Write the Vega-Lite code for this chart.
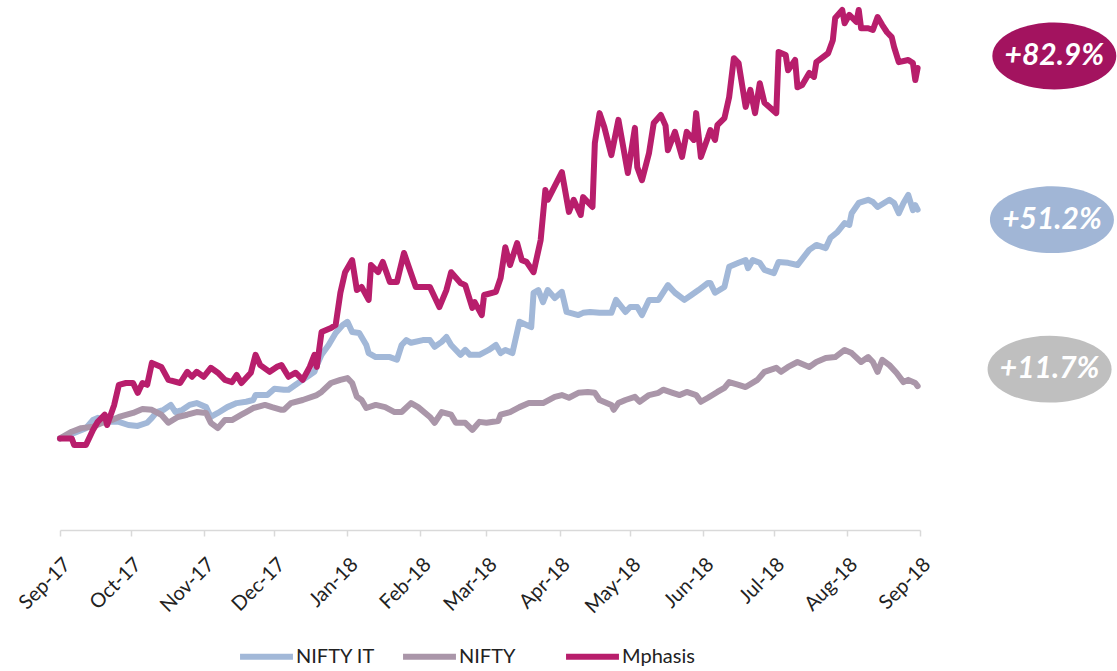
{
"$schema": "https://vega.github.io/schema/vega-lite/v6.json",
"width": 860, "height": 525,
"autosize": {"type": "none"},
"padding": {"left": 60, "top": 5, "right": 197, "bottom": 141},
"background": "white",
"config": {"view": {"stroke": null}, "font": "Lato"},
"datasets": {
"series": [
{"date":"2017/09/01","series":"NIFTY IT","change":0},{"date":"2017/09/07","series":"NIFTY IT","change":1.2},{"date":"2017/09/12","series":"NIFTY IT","change":2.3},{"date":"2017/09/15","series":"NIFTY IT","change":4.1},{"date":"2017/09/17","series":"NIFTY IT","change":4.6},{"date":"2017/09/21","series":"NIFTY IT","change":3.7},{"date":"2017/09/26","series":"NIFTY IT","change":3.7},{"date":"2017/09/30","series":"NIFTY IT","change":3.0},{"date":"2017/10/04","series":"NIFTY IT","change":2.8},{"date":"2017/10/08","series":"NIFTY IT","change":3.5},{"date":"2017/10/10","series":"NIFTY IT","change":4.6},{"date":"2017/10/12","series":"NIFTY IT","change":5.9},{"date":"2017/10/15","series":"NIFTY IT","change":6.4},{"date":"2017/10/18","series":"NIFTY IT","change":7.5},{"date":"2017/10/20","series":"NIFTY IT","change":5.9},{"date":"2017/10/23","series":"NIFTY IT","change":6.4},{"date":"2017/10/26","series":"NIFTY IT","change":7.5},{"date":"2017/10/29","series":"NIFTY IT","change":7.9},{"date":"2017/11/02","series":"NIFTY IT","change":7.0},{"date":"2017/11/04","series":"NIFTY IT","change":4.8},{"date":"2017/11/07","series":"NIFTY IT","change":5.7},{"date":"2017/11/11","series":"NIFTY IT","change":7.0},{"date":"2017/11/15","series":"NIFTY IT","change":7.9},{"date":"2017/11/19","series":"NIFTY IT","change":8.2},{"date":"2017/11/22","series":"NIFTY IT","change":8.6},{"date":"2017/11/23","series":"NIFTY IT","change":9.7},{"date":"2017/11/28","series":"NIFTY IT","change":9.7},{"date":"2017/12/01","series":"NIFTY IT","change":11.1},{"date":"2017/12/05","series":"NIFTY IT","change":10.9},{"date":"2017/12/07","series":"NIFTY IT","change":10.9},{"date":"2017/12/10","series":"NIFTY IT","change":12.0},{"date":"2017/12/13","series":"NIFTY IT","change":13.1},{"date":"2017/12/16","series":"NIFTY IT","change":14.2},{"date":"2017/12/18","series":"NIFTY IT","change":14.9},{"date":"2017/12/19","series":"NIFTY IT","change":16.4},{"date":"2017/12/21","series":"NIFTY IT","change":18.7},{"date":"2017/12/24","series":"NIFTY IT","change":20.9},{"date":"2017/12/27","series":"NIFTY IT","change":23.6},{"date":"2017/12/30","series":"NIFTY IT","change":25.4},{"date":"2018/01/01","series":"NIFTY IT","change":26.1},{"date":"2018/01/03","series":"NIFTY IT","change":23.8},{"date":"2018/01/06","series":"NIFTY IT","change":23.6},{"date":"2018/01/09","series":"NIFTY IT","change":20.9},{"date":"2018/01/10","series":"NIFTY IT","change":19.1},{"date":"2018/01/13","series":"NIFTY IT","change":18.2},{"date":"2018/01/19","series":"NIFTY IT","change":18.2},{"date":"2018/01/22","series":"NIFTY IT","change":17.6},{"date":"2018/01/24","series":"NIFTY IT","change":20.9},{"date":"2018/01/26","series":"NIFTY IT","change":22.0},{"date":"2018/01/28","series":"NIFTY IT","change":21.4},{"date":"2018/02/02","series":"NIFTY IT","change":22.0},{"date":"2018/02/05","series":"NIFTY IT","change":22.0},{"date":"2018/02/07","series":"NIFTY IT","change":20.5},{"date":"2018/02/10","series":"NIFTY IT","change":21.6},{"date":"2018/02/12","series":"NIFTY IT","change":22.7},{"date":"2018/02/14","series":"NIFTY IT","change":20.9},{"date":"2018/02/18","series":"NIFTY IT","change":18.7},{"date":"2018/02/20","series":"NIFTY IT","change":19.8},{"date":"2018/02/22","series":"NIFTY IT","change":18.7},{"date":"2018/02/26","series":"NIFTY IT","change":18.7},{"date":"2018/03/02","series":"NIFTY IT","change":19.8},{"date":"2018/03/05","series":"NIFTY IT","change":20.9},{"date":"2018/03/07","series":"NIFTY IT","change":19.1},{"date":"2018/03/09","series":"NIFTY IT","change":19.8},{"date":"2018/03/12","series":"NIFTY IT","change":19.1},{"date":"2018/03/15","series":"NIFTY IT","change":26.1},{"date":"2018/03/18","series":"NIFTY IT","change":25.4},{"date":"2018/03/20","series":"NIFTY IT","change":24.9},{"date":"2018/03/21","series":"NIFTY IT","change":32.6},{"date":"2018/03/23","series":"NIFTY IT","change":33.2},{"date":"2018/03/25","series":"NIFTY IT","change":30.5},{"date":"2018/03/27","series":"NIFTY IT","change":33.2},{"date":"2018/03/30","series":"NIFTY IT","change":31.4},{"date":"2018/04/02","series":"NIFTY IT","change":32.8},{"date":"2018/04/04","series":"NIFTY IT","change":28.3},{"date":"2018/04/09","series":"NIFTY IT","change":27.6},{"date":"2018/04/11","series":"NIFTY IT","change":28.1},{"date":"2018/04/14","series":"NIFTY IT","change":28.3},{"date":"2018/04/18","series":"NIFTY IT","change":28.1},{"date":"2018/04/23","series":"NIFTY IT","change":28.1},{"date":"2018/04/25","series":"NIFTY IT","change":31.0},{"date":"2018/04/29","series":"NIFTY IT","change":28.3},{"date":"2018/05/01","series":"NIFTY IT","change":29.4},{"date":"2018/05/04","series":"NIFTY IT","change":29.4},{"date":"2018/05/06","series":"NIFTY IT","change":27.6},{"date":"2018/05/09","series":"NIFTY IT","change":31.0},{"date":"2018/05/13","series":"NIFTY IT","change":31.0},{"date":"2018/05/17","series":"NIFTY IT","change":34.3},{"date":"2018/05/20","series":"NIFTY IT","change":32.6},{"date":"2018/05/24","series":"NIFTY IT","change":31.0},{"date":"2018/05/27","series":"NIFTY IT","change":32.1},{"date":"2018/05/30","series":"NIFTY IT","change":33.2},{"date":"2018/06/03","series":"NIFTY IT","change":34.8},{"date":"2018/06/04","series":"NIFTY IT","change":34.8},{"date":"2018/06/06","series":"NIFTY IT","change":32.6},{"date":"2018/06/10","series":"NIFTY IT","change":33.9},{"date":"2018/06/12","series":"NIFTY IT","change":38.4},{"date":"2018/06/16","series":"NIFTY IT","change":39.3},{"date":"2018/06/19","series":"NIFTY IT","change":39.9},{"date":"2018/06/20","series":"NIFTY IT","change":38.1},{"date":"2018/06/22","series":"NIFTY IT","change":39.9},{"date":"2018/06/25","series":"NIFTY IT","change":39.3},{"date":"2018/06/27","series":"NIFTY IT","change":37.7},{"date":"2018/07/01","series":"NIFTY IT","change":37.0},{"date":"2018/07/03","series":"NIFTY IT","change":39.5},{"date":"2018/07/07","series":"NIFTY IT","change":39.3},{"date":"2018/07/11","series":"NIFTY IT","change":38.8},{"date":"2018/07/16","series":"NIFTY IT","change":42.2},{"date":"2018/07/19","series":"NIFTY IT","change":43.3},{"date":"2018/07/23","series":"NIFTY IT","change":42.6},{"date":"2018/07/25","series":"NIFTY IT","change":44.9},{"date":"2018/07/28","series":"NIFTY IT","change":46.2},{"date":"2018/07/31","series":"NIFTY IT","change":48.2},{"date":"2018/08/02","series":"NIFTY IT","change":47.8},{"date":"2018/08/03","series":"NIFTY IT","change":50.4},{"date":"2018/08/06","series":"NIFTY IT","change":52.7},{"date":"2018/08/10","series":"NIFTY IT","change":53.4},{"date":"2018/08/12","series":"NIFTY IT","change":52.9},{"date":"2018/08/14","series":"NIFTY IT","change":51.8},{"date":"2018/08/19","series":"NIFTY IT","change":53.4},{"date":"2018/08/21","series":"NIFTY IT","change":52.7},{"date":"2018/08/23","series":"NIFTY IT","change":50.4},{"date":"2018/08/25","series":"NIFTY IT","change":52.7},{"date":"2018/08/27","series":"NIFTY IT","change":54.5},{"date":"2018/08/29","series":"NIFTY IT","change":51.1},{"date":"2018/08/30","series":"NIFTY IT","change":52.2},{"date":"2018/08/31","series":"NIFTY IT","change":51.2},
{"date":"2017/09/01","series":"NIFTY","change":0},{"date":"2017/09/06","series":"NIFTY","change":1.5},{"date":"2017/09/10","series":"NIFTY","change":2.3},{"date":"2017/09/15","series":"NIFTY","change":2.6},{"date":"2017/09/19","series":"NIFTY","change":3.5},{"date":"2017/09/23","series":"NIFTY","change":4.1},{"date":"2017/09/26","series":"NIFTY","change":4.8},{"date":"2017/10/02","series":"NIFTY","change":5.7},{"date":"2017/10/06","series":"NIFTY","change":6.6},{"date":"2017/10/10","series":"NIFTY","change":6.4},{"date":"2017/10/14","series":"NIFTY","change":5.3},{"date":"2017/10/17","series":"NIFTY","change":3.5},{"date":"2017/10/21","series":"NIFTY","change":4.8},{"date":"2017/10/25","series":"NIFTY","change":5.3},{"date":"2017/10/29","series":"NIFTY","change":5.9},{"date":"2017/11/02","series":"NIFTY","change":5.7},{"date":"2017/11/04","series":"NIFTY","change":3.5},{"date":"2017/11/07","series":"NIFTY","change":2.3},{"date":"2017/11/10","series":"NIFTY","change":4.1},{"date":"2017/11/13","series":"NIFTY","change":4.1},{"date":"2017/11/17","series":"NIFTY","change":5.3},{"date":"2017/11/19","series":"NIFTY","change":5.9},{"date":"2017/11/22","series":"NIFTY","change":6.8},{"date":"2017/11/27","series":"NIFTY","change":7.5},{"date":"2017/11/30","series":"NIFTY","change":7.0},{"date":"2017/12/04","series":"NIFTY","change":6.4},{"date":"2017/12/05","series":"NIFTY","change":6.4},{"date":"2017/12/08","series":"NIFTY","change":7.9},{"date":"2017/12/13","series":"NIFTY","change":8.6},{"date":"2017/12/19","series":"NIFTY","change":9.7},{"date":"2017/12/21","series":"NIFTY","change":10.4},{"date":"2017/12/25","series":"NIFTY","change":12.4},{"date":"2017/12/29","series":"NIFTY","change":13.1},{"date":"2018/01/01","series":"NIFTY","change":13.5},{"date":"2018/01/03","series":"NIFTY","change":12.4},{"date":"2018/01/05","series":"NIFTY","change":9.3},{"date":"2018/01/07","series":"NIFTY","change":8.6},{"date":"2018/01/09","series":"NIFTY","change":6.8},{"date":"2018/01/13","series":"NIFTY","change":7.5},{"date":"2018/01/17","series":"NIFTY","change":7.0},{"date":"2018/01/21","series":"NIFTY","change":5.9},{"date":"2018/01/24","series":"NIFTY","change":5.9},{"date":"2018/01/28","series":"NIFTY","change":7.9},{"date":"2018/01/31","series":"NIFTY","change":7.0},{"date":"2018/02/05","series":"NIFTY","change":4.8},{"date":"2018/02/07","series":"NIFTY","change":3.5},{"date":"2018/02/10","series":"NIFTY","change":5.9},{"date":"2018/02/14","series":"NIFTY","change":5.3},{"date":"2018/02/16","series":"NIFTY","change":3.5},{"date":"2018/02/20","series":"NIFTY","change":3.5},{"date":"2018/02/23","series":"NIFTY","change":1.9},{"date":"2018/02/26","series":"NIFTY","change":3.7},{"date":"2018/03/01","series":"NIFTY","change":3.5},{"date":"2018/03/06","series":"NIFTY","change":3.9},{"date":"2018/03/07","series":"NIFTY","change":5.3},{"date":"2018/03/11","series":"NIFTY","change":5.9},{"date":"2018/03/15","series":"NIFTY","change":7.0},{"date":"2018/03/19","series":"NIFTY","change":7.9},{"date":"2018/03/25","series":"NIFTY","change":7.9},{"date":"2018/03/30","series":"NIFTY","change":9.3},{"date":"2018/04/02","series":"NIFTY","change":9.7},{"date":"2018/04/05","series":"NIFTY","change":9.1},{"date":"2018/04/09","series":"NIFTY","change":10.2},{"date":"2018/04/13","series":"NIFTY","change":10.4},{"date":"2018/04/16","series":"NIFTY","change":10.2},{"date":"2018/04/18","series":"NIFTY","change":8.6},{"date":"2018/04/23","series":"NIFTY","change":7.5},{"date":"2018/04/24","series":"NIFTY","change":6.4},{"date":"2018/04/26","series":"NIFTY","change":7.9},{"date":"2018/04/29","series":"NIFTY","change":8.6},{"date":"2018/05/03","series":"NIFTY","change":9.3},{"date":"2018/05/05","series":"NIFTY","change":8.2},{"date":"2018/05/09","series":"NIFTY","change":9.7},{"date":"2018/05/13","series":"NIFTY","change":10.2},{"date":"2018/05/15","series":"NIFTY","change":10.9},{"date":"2018/05/19","series":"NIFTY","change":10.2},{"date":"2018/05/22","series":"NIFTY","change":9.7},{"date":"2018/05/25","series":"NIFTY","change":10.4},{"date":"2018/05/29","series":"NIFTY","change":9.7},{"date":"2018/05/31","series":"NIFTY","change":8.2},{"date":"2018/06/03","series":"NIFTY","change":9.1},{"date":"2018/06/07","series":"NIFTY","change":10.4},{"date":"2018/06/10","series":"NIFTY","change":11.3},{"date":"2018/06/12","series":"NIFTY","change":12.6},{"date":"2018/06/16","series":"NIFTY","change":12.0},{"date":"2018/06/19","series":"NIFTY","change":11.5},{"date":"2018/06/24","series":"NIFTY","change":13.1},{"date":"2018/06/27","series":"NIFTY","change":14.9},{"date":"2018/07/02","series":"NIFTY","change":15.8},{"date":"2018/07/04","series":"NIFTY","change":14.9},{"date":"2018/07/07","series":"NIFTY","change":16.0},{"date":"2018/07/11","series":"NIFTY","change":17.1},{"date":"2018/07/16","series":"NIFTY","change":16.0},{"date":"2018/07/19","series":"NIFTY","change":17.1},{"date":"2018/07/23","series":"NIFTY","change":18.0},{"date":"2018/07/27","series":"NIFTY","change":18.2},{"date":"2018/07/31","series":"NIFTY","change":19.8},{"date":"2018/08/03","series":"NIFTY","change":19.1},{"date":"2018/08/07","series":"NIFTY","change":17.1},{"date":"2018/08/10","series":"NIFTY","change":18.2},{"date":"2018/08/12","series":"NIFTY","change":17.1},{"date":"2018/08/14","series":"NIFTY","change":14.9},{"date":"2018/08/16","series":"NIFTY","change":17.6},{"date":"2018/08/19","series":"NIFTY","change":16.4},{"date":"2018/08/22","series":"NIFTY","change":14.7},{"date":"2018/08/25","series":"NIFTY","change":12.6},{"date":"2018/08/27","series":"NIFTY","change":13.1},{"date":"2018/08/30","series":"NIFTY","change":12.4},{"date":"2018/08/31","series":"NIFTY","change":11.7},
{"date":"2017/09/01","series":"Mphasis","change":0},{"date":"2017/09/06","series":"Mphasis","change":0},{"date":"2017/09/07","series":"Mphasis","change":-1.5},{"date":"2017/09/12","series":"Mphasis","change":-1.5},{"date":"2017/09/15","series":"Mphasis","change":1.9},{"date":"2017/09/17","series":"Mphasis","change":3.7},{"date":"2017/09/20","series":"Mphasis","change":5.3},{"date":"2017/09/21","series":"Mphasis","change":3.0},{"date":"2017/09/24","series":"Mphasis","change":7.5},{"date":"2017/09/26","series":"Mphasis","change":12.0},{"date":"2017/09/29","series":"Mphasis","change":12.4},{"date":"2017/10/02","series":"Mphasis","change":12.4},{"date":"2017/10/04","series":"Mphasis","change":10.2},{"date":"2017/10/06","series":"Mphasis","change":12.4},{"date":"2017/10/08","series":"Mphasis","change":12.0},{"date":"2017/10/10","series":"Mphasis","change":16.9},{"date":"2017/10/14","series":"Mphasis","change":16.0},{"date":"2017/10/17","series":"Mphasis","change":13.1},{"date":"2017/10/22","series":"Mphasis","change":12.4},{"date":"2017/10/25","series":"Mphasis","change":14.9},{"date":"2017/10/27","series":"Mphasis","change":13.8},{"date":"2017/10/29","series":"Mphasis","change":14.9},{"date":"2017/11/01","series":"Mphasis","change":13.8},{"date":"2017/11/04","series":"Mphasis","change":15.8},{"date":"2017/11/07","series":"Mphasis","change":14.7},{"date":"2017/11/10","series":"Mphasis","change":13.1},{"date":"2017/11/13","series":"Mphasis","change":12.6},{"date":"2017/11/15","series":"Mphasis","change":14.2},{"date":"2017/11/17","series":"Mphasis","change":12.4},{"date":"2017/11/21","series":"Mphasis","change":14.7},{"date":"2017/11/23","series":"Mphasis","change":18.7},{"date":"2017/11/25","series":"Mphasis","change":16.4},{"date":"2017/11/29","series":"Mphasis","change":14.9},{"date":"2017/12/02","series":"Mphasis","change":16.0},{"date":"2017/12/04","series":"Mphasis","change":16.4},{"date":"2017/12/07","series":"Mphasis","change":13.8},{"date":"2017/12/10","series":"Mphasis","change":14.7},{"date":"2017/12/13","series":"Mphasis","change":13.1},{"date":"2017/12/16","series":"Mphasis","change":16.0},{"date":"2017/12/18","series":"Mphasis","change":18.7},{"date":"2017/12/19","series":"Mphasis","change":16.0},{"date":"2017/12/21","series":"Mphasis","change":23.8},{"date":"2017/12/25","series":"Mphasis","change":24.7},{"date":"2017/12/27","series":"Mphasis","change":25.4},{"date":"2017/12/29","series":"Mphasis","change":32.6},{"date":"2017/12/31","series":"Mphasis","change":37.2},{"date":"2018/01/03","series":"Mphasis","change":39.9},{"date":"2018/01/05","series":"Mphasis","change":33.2},{"date":"2018/01/07","series":"Mphasis","change":33.9},{"date":"2018/01/10","series":"Mphasis","change":31.0},{"date":"2018/01/11","series":"Mphasis","change":38.8},{"date":"2018/01/14","series":"Mphasis","change":37.2},{"date":"2018/01/16","series":"Mphasis","change":39.5},{"date":"2018/01/19","series":"Mphasis","change":35.0},{"date":"2018/01/22","series":"Mphasis","change":35.0},{"date":"2018/01/25","series":"Mphasis","change":41.5},{"date":"2018/01/27","series":"Mphasis","change":38.4},{"date":"2018/01/30","series":"Mphasis","change":33.9},{"date":"2018/02/05","series":"Mphasis","change":33.9},{"date":"2018/02/09","series":"Mphasis","change":29.4},{"date":"2018/02/12","series":"Mphasis","change":33.2},{"date":"2018/02/14","series":"Mphasis","change":37.2},{"date":"2018/02/18","series":"Mphasis","change":34.8},{"date":"2018/02/20","series":"Mphasis","change":34.3},{"date":"2018/02/23","series":"Mphasis","change":29.2},{"date":"2018/02/24","series":"Mphasis","change":30.5},{"date":"2018/02/27","series":"Mphasis","change":27.6},{"date":"2018/02/28","series":"Mphasis","change":32.1},{"date":"2018/03/05","series":"Mphasis","change":32.8},{"date":"2018/03/07","series":"Mphasis","change":35.9},{"date":"2018/03/09","series":"Mphasis","change":42.8},{"date":"2018/03/11","series":"Mphasis","change":38.8},{"date":"2018/03/14","series":"Mphasis","change":43.7},{"date":"2018/03/16","series":"Mphasis","change":39.9},{"date":"2018/03/18","series":"Mphasis","change":39.5},{"date":"2018/03/21","series":"Mphasis","change":37.2},{"date":"2018/03/24","series":"Mphasis","change":44.4},{"date":"2018/03/26","series":"Mphasis","change":55.6},{"date":"2018/03/27","series":"Mphasis","change":53.4},{"date":"2018/04/02","series":"Mphasis","change":59.6},{"date":"2018/04/05","series":"Mphasis","change":50.7},{"date":"2018/04/07","series":"Mphasis","change":53.4},{"date":"2018/04/10","series":"Mphasis","change":50.0},{"date":"2018/04/11","series":"Mphasis","change":54.0},{"date":"2018/04/15","series":"Mphasis","change":51.8},{"date":"2018/04/16","series":"Mphasis","change":66.1},{"date":"2018/04/18","series":"Mphasis","change":72.8},{"date":"2018/04/20","series":"Mphasis","change":69.7},{"date":"2018/04/23","series":"Mphasis","change":63.4},{"date":"2018/04/26","series":"Mphasis","change":71.3},{"date":"2018/04/30","series":"Mphasis","change":59.4},{"date":"2018/05/03","series":"Mphasis","change":69.5},{"date":"2018/05/04","series":"Mphasis","change":60.7},{"date":"2018/05/06","series":"Mphasis","change":57.8},{"date":"2018/05/09","series":"Mphasis","change":63.9},{"date":"2018/05/11","series":"Mphasis","change":70.6},{"date":"2018/05/14","series":"Mphasis","change":72.4},{"date":"2018/05/16","series":"Mphasis","change":70.0},{"date":"2018/05/17","series":"Mphasis","change":64.5},{"date":"2018/05/20","series":"Mphasis","change":68.6},{"date":"2018/05/23","series":"Mphasis","change":63.0},{"date":"2018/05/25","series":"Mphasis","change":68.6},{"date":"2018/05/28","series":"Mphasis","change":66.8},{"date":"2018/05/29","series":"Mphasis","change":72.8},{"date":"2018/05/31","series":"Mphasis","change":63.0},{"date":"2018/06/03","series":"Mphasis","change":67.4},{"date":"2018/06/04","series":"Mphasis","change":69.0},{"date":"2018/06/06","series":"Mphasis","change":66.8},{"date":"2018/06/07","series":"Mphasis","change":70.1},{"date":"2018/06/10","series":"Mphasis","change":71.7},{"date":"2018/06/12","series":"Mphasis","change":76.4},{"date":"2018/06/14","series":"Mphasis","change":85.1},{"date":"2018/06/16","series":"Mphasis","change":84.0},{"date":"2018/06/19","series":"Mphasis","change":74.2},{"date":"2018/06/21","series":"Mphasis","change":78.0},{"date":"2018/06/23","series":"Mphasis","change":72.8},{"date":"2018/06/25","series":"Mphasis","change":79.5},{"date":"2018/06/27","series":"Mphasis","change":75.1},{"date":"2018/07/02","series":"Mphasis","change":72.8},{"date":"2018/07/03","series":"Mphasis","change":86.5},{"date":"2018/07/06","series":"Mphasis","change":85.8},{"date":"2018/07/07","series":"Mphasis","change":82.4},{"date":"2018/07/10","series":"Mphasis","change":84.7},{"date":"2018/07/11","series":"Mphasis","change":78.6},{"date":"2018/07/13","series":"Mphasis","change":79.1},{"date":"2018/07/16","series":"Mphasis","change":81.8},{"date":"2018/07/18","series":"Mphasis","change":80.9},{"date":"2018/07/19","series":"Mphasis","change":84.2},{"date":"2018/07/24","series":"Mphasis","change":86.2},{"date":"2018/07/26","series":"Mphasis","change":89.1},{"date":"2018/07/27","series":"Mphasis","change":94.1},{"date":"2018/07/30","series":"Mphasis","change":95.9},{"date":"2018/07/31","series":"Mphasis","change":92.9},{"date":"2018/08/02","series":"Mphasis","change":94.8},{"date":"2018/08/05","series":"Mphasis","change":93.2},{"date":"2018/08/06","series":"Mphasis","change":95.9},{"date":"2018/08/07","series":"Mphasis","change":91.8},{"date":"2018/08/10","series":"Mphasis","change":91.8},{"date":"2018/08/12","series":"Mphasis","change":91.4},{"date":"2018/08/14","series":"Mphasis","change":94.3},{"date":"2018/08/16","series":"Mphasis","change":92.5},{"date":"2018/08/18","series":"Mphasis","change":90.9},{"date":"2018/08/20","series":"Mphasis","change":89.8},{"date":"2018/08/21","series":"Mphasis","change":87.6},{"date":"2018/08/23","series":"Mphasis","change":84.2},{"date":"2018/08/27","series":"Mphasis","change":84.7},{"date":"2018/08/29","series":"Mphasis","change":84.0},{"date":"2018/08/30","series":"Mphasis","change":80.2},{"date":"2018/08/31","series":"Mphasis","change":82.9}
],
"labels": [
{"series":"Mphasis","change":82.9,"label":"+82.9%"},
{"series":"NIFTY IT","change":51.2,"label":"+51.2%"},
{"series":"NIFTY","change":11.7,"label":"+11.7%"}
]
},
"layer": [
{
"data": {"name": "series"},
"mark": {"type": "line", "strokeWidth": 6, "strokeCap": "round", "strokeJoin": "round"},
"encoding": {
"x": {"field": "date", "type": "temporal",
"scale": {"domain": [{"year": 2017, "month": 9, "date": 1}, {"year": 2018, "month": 9, "date": 1}]},
"axis": {"title": null, "format": "%b-%y", "tickCount": {"interval": "month", "step": 1}, "labelAngle": -45, "labelAlign": "right", "labelBaseline": "top", "labelFontSize": 20, "labelFont": "Lato", "labelColor": "#222222", "labelPadding": 18, "labelOverlap": false, "labelFlush": false, "domainColor": "#D9D9D9", "domainWidth": 1.5, "tickColor": "#D9D9D9", "tickWidth": 1.5, "tickSize": 6, "grid": false}},
"y": {"field": "change", "type": "quantitative", "scale": {"domain": [-20.5, 97], "nice": false, "zero": false}, "axis": null},
"color": {"field": "series", "type": "nominal",
"scale": {"domain": ["NIFTY IT", "NIFTY", "Mphasis"], "range": ["#A2B8D8", "#AA96A9", "#B81E6C"]},
"legend": {"title": null, "orient": "none", "legendX": 177, "legendY": 622, "direction": "horizontal", "symbolType": "stroke", "symbolStrokeWidth": 6, "symbolSize": 2800, "labelFontSize": 20, "labelFont": "Lato", "labelColor": "#222222", "labelOffset": 0, "columnPadding": 16, "gridAlign": "all"}}
}
},
{
"data": {"name": "labels"},
"transform": [{"filter": "datum.series === 'Mphasis'"}],
"encoding": {
"x": {"datum": {"year": 2018, "month": 10, "date": 28}, "type": "temporal"},
"y": {"field": "change", "type": "quantitative"}
},
"layer": [
{"mark": {"type": "point", "shape": "M -1 0 A 1 0.54 0 1 0 1 0 A 1 0.54 0 1 0 -1 0 Z", "size": 15376, "filled": true, "color": "#A3135F", "opacity": 1, "yOffset": -12}},
{"mark": {"type": "text", "color": "white", "font": "Lato", "fontSize": 30, "fontWeight": "bold", "fontStyle": "italic", "yOffset": -12}, "encoding": {"text": {"field": "label"}}}
]
},
{
"data": {"name": "labels"},
"transform": [{"filter": "datum.series === 'NIFTY IT'"}],
"encoding": {
"x": {"datum": {"year": 2018, "month": 10, "date": 27}, "type": "temporal"},
"y": {"field": "change", "type": "quantitative"}
},
"layer": [
{"mark": {"type": "point", "shape": "M -1 0 A 1 0.54 0 1 0 1 0 A 1 0.54 0 1 0 -1 0 Z", "size": 15376, "filled": true, "color": "#A1B6D6", "opacity": 1, "yOffset": 10}},
{"mark": {"type": "text", "color": "white", "font": "Lato", "fontSize": 30, "fontWeight": "bold", "fontStyle": "italic", "yOffset": 10}, "encoding": {"text": {"field": "label"}}}
]
},
{
"data": {"name": "labels"},
"transform": [{"filter": "datum.series === 'NIFTY'"}],
"encoding": {
"x": {"datum": {"year": 2018, "month": 10, "date": 26}, "type": "temporal"},
"y": {"field": "change", "type": "quantitative"}
},
"layer": [
{"mark": {"type": "point", "shape": "M -1 0 A 1 0.54 0 1 0 1 0 A 1 0.54 0 1 0 -1 0 Z", "size": 15376, "filled": true, "color": "#BFBFBF", "opacity": 1, "yOffset": -17}},
{"mark": {"type": "text", "color": "white", "font": "Lato", "fontSize": 30, "fontWeight": "bold", "fontStyle": "italic", "yOffset": -17}, "encoding": {"text": {"field": "label"}}}
]
}
]
}
